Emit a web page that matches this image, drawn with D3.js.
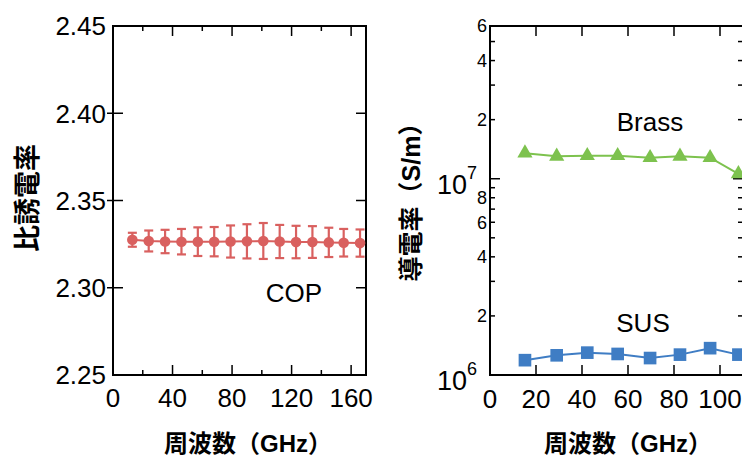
<!DOCTYPE html>
<html>
<head>
<meta charset="utf-8">
<script src="https://cdn.jsdelivr.net/npm/d3@7"></script>
<style>
body { margin: 0; background: #fff; }
text { font-family: "Liberation Sans", Arial, "Noto Sans CJK JP", sans-serif; }
.title { font-family: "Liberation Sans", Arial, "Noto Sans CJK JP", sans-serif; font-weight: bold; }
</style>
</head>
<body>
<div id="chart"></div>
<script>
// COP relative permittivity vs frequency
var copFreq = [13, 24, 35, 46, 57, 68, 79, 90, 101, 112, 123, 134, 145, 155, 166];
var copEps  = [2.3275, 2.3268, 2.3265, 2.3264, 2.3264, 2.3264, 2.3265, 2.3266, 2.3268, 2.3265, 2.3262, 2.3262, 2.3260, 2.3258, 2.3256];
var copErr  = [0.0040, 0.0060, 0.0067, 0.0073, 0.0082, 0.0084, 0.0092, 0.0098, 0.0103, 0.0095, 0.0093, 0.0091, 0.0084, 0.0079, 0.0078];

// metal conductivity vs frequency
var metalFreq = [15.2, 29, 42.3, 55.5, 69.6, 82.6, 95.7, 108];
var brassSigma = [1.35e7, 1.30e7, 1.31e7, 1.31e7, 1.28e7, 1.30e7, 1.28e7, 1.06e7];
var susSigma   = [1.19e6, 1.26e6, 1.30e6, 1.28e6, 1.22e6, 1.27e6, 1.37e6, 1.27e6];

// tick values
var epsTicks = [2.25, 2.30, 2.35, 2.40, 2.45];
var leftMajorX = [0, 40, 80, 120, 160];
var leftMinorX = [20, 60, 100, 140];
var rightX = [0, 20, 40, 60, 80, 100];
var decades = [1e6, 1e7];
var logMinor = [2e6, 3e6, 4e6, 5e6, 6e6, 7e6, 8e6, 9e6, 2e7, 3e7, 4e7, 5e7, 6e7];
var logLabels = [2e6, 4e6, 6e6, 8e6, 2e7, 4e7, 6e7];

var red = "#d9605f", green = "#7dc24e", blue = "#3f7dc4";

var W = 742, H = 457;
var svg = d3.select("#chart").append("svg")
    .attr("width", W).attr("height", H);

// ---------- left panel ----------
var L = {left: 113, right: 366, top: 26, bottom: 375};
var x1 = d3.scaleLinear().domain([0, 170]).range([L.left, L.right]);
var y1 = d3.scaleLinear().domain([2.25, 2.45]).range([L.bottom, L.top]);

var g1 = svg.append("g");
g1.append("rect").attr("x", L.left).attr("y", L.top)
  .attr("width", L.right - L.left).attr("height", L.bottom - L.top)
  .attr("fill", "none").attr("stroke", "#000").attr("stroke-width", 2);

// x ticks (bottom + top, inward)
function xTick(g, sx, vals, len, top, bottom) {
  vals.forEach(function(v) {
    g.append("line").attr("x1", sx(v)).attr("x2", sx(v))
     .attr("y1", bottom).attr("y2", bottom - len).attr("stroke", "#000").attr("stroke-width", 1.5);
    g.append("line").attr("x1", sx(v)).attr("x2", sx(v))
     .attr("y1", top).attr("y2", top + len).attr("stroke", "#000").attr("stroke-width", 1.5);
  });
}
xTick(g1, x1, leftMajorX.slice(1), 10, L.top, L.bottom);
xTick(g1, x1, leftMinorX, 5, L.top, L.bottom);

g1.selectAll(".xl").data(leftMajorX).enter().append("text")
  .attr("x", function(d){ return x1(d); }).attr("y", 407)
  .attr("text-anchor", "middle").style("font-size", "26px").text(function(d){ return d; });

epsTicks.slice(1, 4).forEach(function(v) {
  g1.append("line").attr("x1", L.left - 6).attr("x2", L.left + 10)
    .attr("y1", y1(v)).attr("y2", y1(v)).attr("stroke", "#000").attr("stroke-width", 1.5);
  g1.append("line").attr("x1", L.right).attr("x2", L.right - 10)
    .attr("y1", y1(v)).attr("y2", y1(v)).attr("stroke", "#000").attr("stroke-width", 1.5);
});
g1.selectAll(".yl").data(epsTicks).enter().append("text")
  .attr("x", 106).attr("y", function(d){ return y1(d); }).attr("dy", "0.36em")
  .attr("text-anchor", "end").style("font-size", "26px").text(d3.format(".2f"));

// error bars
var cop = copFreq.map(function(f, i){ return {f: f, v: copEps[i], e: copErr[i]}; });
var eb = g1.selectAll(".eb").data(cop).enter().append("g").attr("stroke", red).attr("stroke-width", 2.2);
eb.append("line").attr("x1", function(d){ return x1(d.f); }).attr("x2", function(d){ return x1(d.f); })
  .attr("y1", function(d){ return y1(d.v - d.e); }).attr("y2", function(d){ return y1(d.v + d.e); });
eb.append("line").attr("x1", function(d){ return x1(d.f) - 4.5; }).attr("x2", function(d){ return x1(d.f) + 4.5; })
  .attr("y1", function(d){ return y1(d.v + d.e); }).attr("y2", function(d){ return y1(d.v + d.e); });
eb.append("line").attr("x1", function(d){ return x1(d.f) - 4.5; }).attr("x2", function(d){ return x1(d.f) + 4.5; })
  .attr("y1", function(d){ return y1(d.v - d.e); }).attr("y2", function(d){ return y1(d.v - d.e); });

g1.append("path").datum(cop)
  .attr("fill", "none").attr("stroke", red).attr("stroke-width", 2)
  .attr("d", d3.line().x(function(d){ return x1(d.f); }).y(function(d){ return y1(d.v); }));
g1.selectAll(".pt").data(cop).enter().append("circle")
  .attr("cx", function(d){ return x1(d.f); }).attr("cy", function(d){ return y1(d.v); })
  .attr("r", 5.3).attr("fill", red);

g1.append("text").attr("x", 294).attr("y", 302).attr("text-anchor", "middle")
  .style("font-size", "26px").text("COP");

g1.append("text").attr("class", "title")
  .attr("transform", "translate(37,198) rotate(-90)")
  .attr("text-anchor", "middle").style("font-size", "27px").text("比誘電率");
g1.append("text").attr("class", "title")
  .attr("x", 248).attr("y", 452).attr("text-anchor", "middle")
  .style("font-size", "24px").text("周波数（GHz）");

// ---------- right panel ----------
var R = {left: 490, right: 743, top: 26, bottom: 375};
var x2 = d3.scaleLinear().domain([0, 110]).range([R.left, R.right]);
var y2 = d3.scaleLog().domain([1e6, 6e7]).range([R.bottom, R.top]);

var g2 = svg.append("g");
g2.append("rect").attr("x", R.left).attr("y", R.top)
  .attr("width", R.right - R.left).attr("height", R.bottom - R.top)
  .attr("fill", "none").attr("stroke", "#000").attr("stroke-width", 2);

xTick(g2, x2, rightX.slice(1), 10, R.top, R.bottom);
g2.selectAll(".xl").data(rightX).enter().append("text")
  .attr("x", function(d){ return x2(d); }).attr("y", 408)
  .attr("text-anchor", "middle").style("font-size", "26px").text(function(d){ return d; });

function yTick(v, len) {
  g2.append("line").attr("x1", R.left).attr("x2", R.left + len)
    .attr("y1", y2(v)).attr("y2", y2(v)).attr("stroke", "#000").attr("stroke-width", 1.5);
  g2.append("line").attr("x1", R.right).attr("x2", R.right - len)
    .attr("y1", y2(v)).attr("y2", y2(v)).attr("stroke", "#000").attr("stroke-width", 1.5);
}
decades.forEach(function(v){ yTick(v, 10); });
logMinor.forEach(function(v){ yTick(v, 5); });

g2.selectAll(".ml").data(logLabels).enter().append("text")
  .attr("x", 487).attr("y", function(d){ return y2(d); }).attr("dy", "0.36em")
  .attr("text-anchor", "end").style("font-size", "18px")
  .text(function(d){ return Math.round(d / Math.pow(10, Math.floor(Math.log10(d) + 1e-9))); });

decades.forEach(function(v) {
  var t = g2.append("text").attr("x", 477).attr("y", y2(v) + 15)
    .attr("text-anchor", "end").style("font-size", "27px");
  t.append("tspan").text("10");
  t.append("tspan").attr("dy", -15).style("font-size", "18px").text(Math.round(Math.log10(v)));
});

var brass = metalFreq.map(function(f, i){ return {f: f, v: brassSigma[i]}; });
var sus = metalFreq.map(function(f, i){ return {f: f, v: susSigma[i]}; });
var line2 = d3.line().x(function(d){ return x2(d.f); }).y(function(d){ return y2(d.v); });

g2.append("path").datum(brass).attr("fill", "none").attr("stroke", green).attr("stroke-width", 2).attr("d", line2);
g2.selectAll(".tri").data(brass).enter().append("path")
  .attr("transform", function(d){ return "translate(" + x2(d.f) + "," + y2(d.v) + ")"; })
  .attr("d", d3.symbol().type(d3.symbolTriangle).size(100)).attr("fill", green);

g2.append("path").datum(sus).attr("fill", "none").attr("stroke", blue).attr("stroke-width", 2).attr("d", line2);
g2.selectAll(".sq").data(sus).enter().append("path")
  .attr("transform", function(d){ return "translate(" + x2(d.f) + "," + y2(d.v) + ")"; })
  .attr("d", d3.symbol().type(d3.symbolSquare).size(160)).attr("fill", blue);

g2.append("text").attr("x", 650).attr("y", 131).attr("text-anchor", "middle")
  .style("font-size", "26px").text("Brass");
g2.append("text").attr("x", 643).attr("y", 332).attr("text-anchor", "middle")
  .style("font-size", "26px").text("SUS");

g2.append("text").attr("class", "title")
  .attr("transform", "translate(420,196) rotate(-90)")
  .attr("text-anchor", "middle").style("font-size", "25px").text("導電率（S/m）");
g2.append("text").attr("class", "title")
  .attr("x", 628).attr("y", 452).attr("text-anchor", "middle")
  .style("font-size", "24px").text("周波数（GHz）");
</script>
</body>
</html>
